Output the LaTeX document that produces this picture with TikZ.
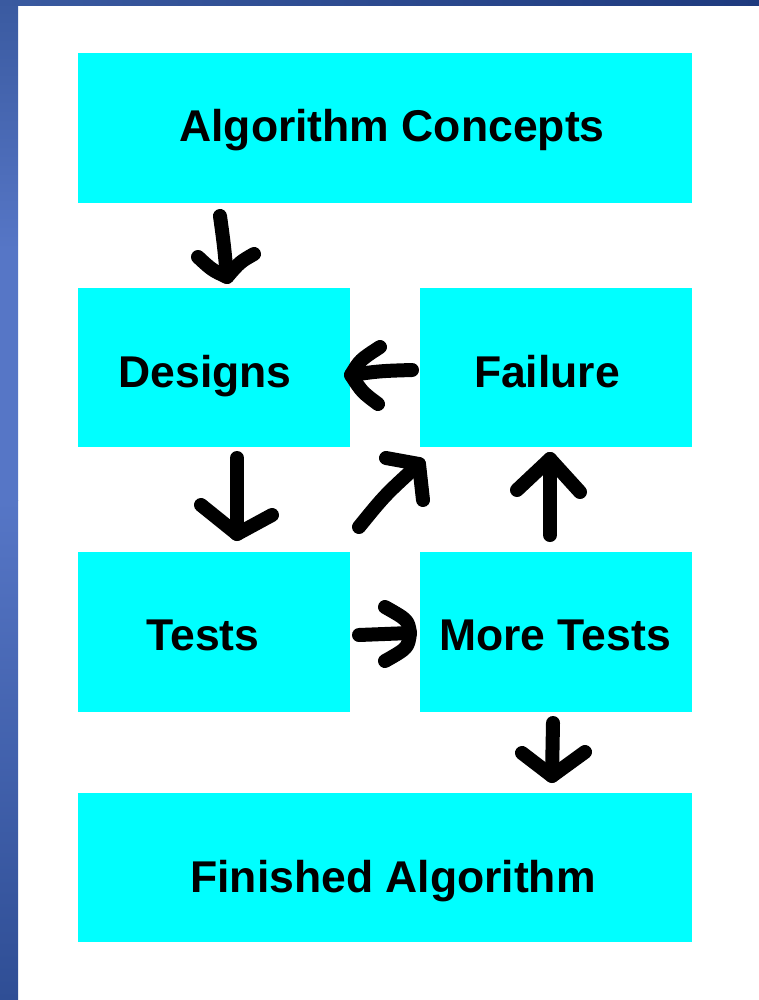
\documentclass[tikz,border=0pt]{standalone}
\usepackage{fontspec}
\setmainfont{Liberation Sans}
\begin{document}
\begin{tikzpicture}[x=1pt,y=-1pt,
  box/.style={fill=boxcyan,draw=none,inner sep=0pt,anchor=north west},
  lbl/.style={font=\bfseries\fontsize{44.5}{48}\selectfont,anchor=base,inner sep=0pt},
  hand/.style={line width=14pt,line cap=round,line join=round,black}]
\definecolor{boxcyan}{HTML}{00FFFF}
\definecolor{bluetop}{HTML}{3A5AA0}
\definecolor{bluemid}{HTML}{5676C6}
\definecolor{bluebot}{HTML}{2F4E95}
\definecolor{navy}{HTML}{1E3A7E}
\useasboundingbox (0,0) rectangle (759,1000);
\fill[white] (0,0) rectangle (759,1000);
% frame bars
\shade[top color=bluetop,bottom color=bluemid,middle color=bluemid] (0,0) rectangle (18,500);
\shade[top color=bluemid,bottom color=bluebot] (0,500) rectangle (18,1000);
\shade[left color=bluetop,right color=navy] (0,0) rectangle (759,6);
% boxes
\node[box,minimum width=614pt,minimum height=150pt] (concepts) at (78,53) {};
\node[box,minimum width=272pt,minimum height=159pt] (designs) at (78,288) {};
\node[box,minimum width=272pt,minimum height=159pt] (failure) at (420,288) {};
\node[box,minimum width=272pt,minimum height=160pt] (tests) at (78,552) {};
\node[box,minimum width=272pt,minimum height=160pt] (more) at (420,552) {};
\node[box,minimum width=614pt,minimum height=149pt] (finished) at (78,793) {};
% labels
\node[lbl] (tconcepts) at (392,142) {Algorithm Concepts};
\node[lbl] (tdesigns) at (205,387) {Designs};
\node[lbl] (tfailure) at (547,387) {Failure};
\node[lbl] (ttests) at (203,650) {Tests};
\node[lbl] (tmore) at (555,650) {More Tests};
\node[lbl] (tfinished) at (393,892) {Finished Algorithm};
% hand-drawn arrows
\coordinate (a1s) at (220,216); \coordinate (a1t) at (227,277);
\coordinate (a1l) at (198,257); \coordinate (a1r) at (254,254);
\draw[hand] (a1s) .. controls (224,245) .. (a1t);
\draw[hand] (a1l) .. controls (212,270) .. (a1t) .. controls (240,262) .. (a1r);

\coordinate (a2s) at (412,370); \coordinate (a2t) at (351,375);
\coordinate (a2u) at (380,347); \coordinate (a2d) at (378,404);
\draw[hand] (a2s) .. controls (380,371) .. (a2t);
\draw[hand] (a2u) .. controls (360,360) .. (a2t) .. controls (362,392) .. (a2d);

\coordinate (a3s) at (237,458); \coordinate (a3t) at (237,534);
\coordinate (a3l) at (201,505); \coordinate (a3r) at (272,515);
\draw[hand] (a3s) -- (a3t);
\draw[hand] (a3l) -- (a3t) -- (a3r);

\coordinate (a4s) at (359,527); \coordinate (a4t) at (419,464);
\coordinate (a4u) at (386,458); \coordinate (a4d) at (423,500);
\draw[hand] (a4s) .. controls (385,495) .. (a4t);
\draw[hand] (a4u) -- (a4t) -- (a4d);

\coordinate (a5s) at (550,535); \coordinate (a5t) at (550,459);
\coordinate (a5l) at (517,490); \coordinate (a5r) at (580,492);
\draw[hand] (a5s) -- (a5t);
\draw[hand] (a5l) -- (a5t) -- (a5r);

\coordinate (a6s) at (359,635); \coordinate (a6t) at (410,633);
\coordinate (a6u) at (385,607); \coordinate (a6d) at (385,661);
\draw[hand] (a6s) -- (a6t);
\draw[hand] (a6u) .. controls (408,620) .. (a6t) .. controls (408,648) .. (a6d);

\coordinate (a7s) at (553,723); \coordinate (a7t) at (552,776);
\coordinate (a7l) at (522,753); \coordinate (a7r) at (585,752);
\draw[hand] (a7s) -- (a7t);
\draw[hand] (a7l) -- (a7t) -- (a7r);
\end{tikzpicture}
\end{document}
